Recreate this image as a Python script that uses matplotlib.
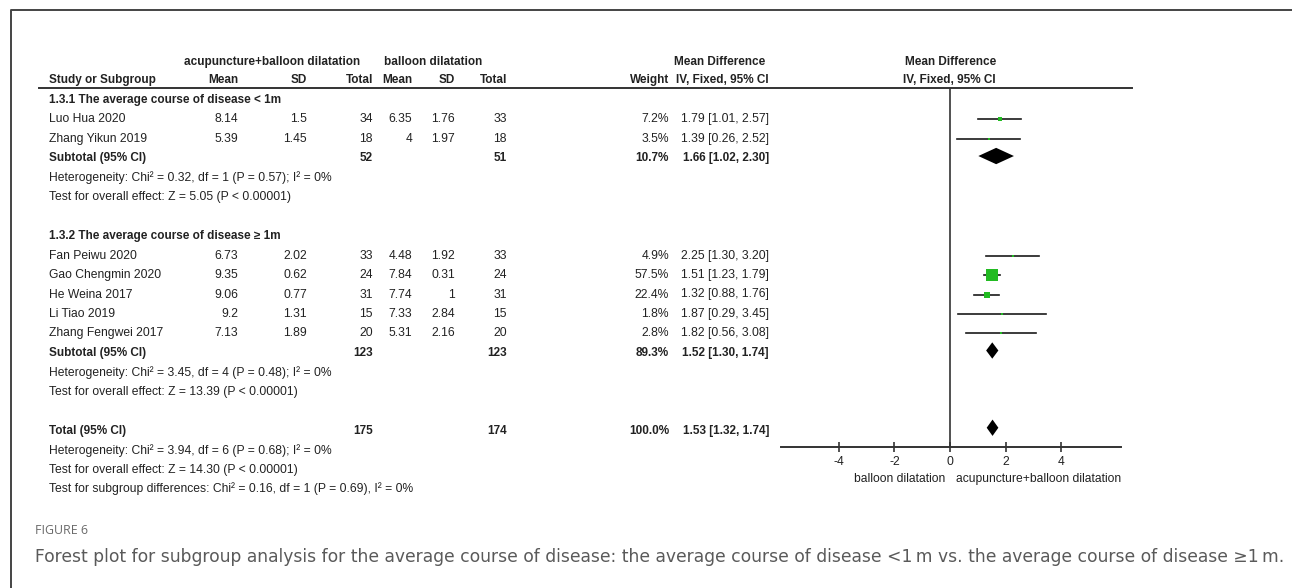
import matplotlib
matplotlib.use("Agg")
import matplotlib.pyplot as plt
from matplotlib import font_manager as fm
import numpy as np

plt.rcParams['axes.unicode_minus'] = False

# ---------------- data ----------------
group_titles = ["1.3.1 The average course of disease < 1m",
                "1.3.2 The average course of disease \u2265 1m"]
studies_1 = ["Luo Hua 2020", "Zhang Yikun 2019"]
exp_mean_1 = [8.14, 5.39]
exp_sd_1 = [1.5, 1.45]
exp_n_1 = [34, 18]
ctl_mean_1 = [6.35, 4]
ctl_sd_1 = [1.76, 1.97]
ctl_n_1 = [33, 18]
weight_1 = [7.2, 3.5]
md_1 = [1.79, 1.39]
lo_1 = [1.01, 0.26]
hi_1 = [2.57, 2.52]

studies_2 = ["Fan Peiwu 2020", "Gao Chengmin 2020", "He Weina 2017",
             "Li Tiao 2019", "Zhang Fengwei 2017"]
exp_mean_2 = [6.73, 9.35, 9.06, 9.2, 7.13]
exp_sd_2 = [2.02, 0.62, 0.77, 1.31, 1.89]
exp_n_2 = [33, 24, 31, 15, 20]
ctl_mean_2 = [4.48, 7.84, 7.74, 7.33, 5.31]
ctl_sd_2 = [1.92, 0.31, 1, 2.84, 2.16]
ctl_n_2 = [33, 24, 31, 15, 20]
weight_2 = [4.9, 57.5, 22.4, 1.8, 2.8]
md_2 = [2.25, 1.51, 1.32, 1.87, 1.82]
lo_2 = [1.30, 1.23, 0.88, 0.29, 0.56]
hi_2 = [3.20, 1.79, 1.76, 3.45, 3.08]

sub_exp_n = [52, 123]
sub_ctl_n = [51, 123]
sub_weight = [10.7, 89.3]
sub_md = [1.66, 1.52]
sub_lo = [1.02, 1.30]
sub_hi = [2.30, 1.74]
het_text = ["Heterogeneity: Chi\u00b2 = 0.32, df = 1 (P = 0.57); I\u00b2 = 0%",
            "Heterogeneity: Chi\u00b2 = 3.45, df = 4 (P = 0.48); I\u00b2 = 0%"]
eff_text = ["Test for overall effect: Z = 5.05 (P < 0.00001)",
            "Test for overall effect: Z = 13.39 (P < 0.00001)"]

tot_exp_n = 175
tot_ctl_n = 174
tot_weight = 100.0
tot_md = 1.53
tot_lo = 1.32
tot_hi = 1.74
tot_lines = ["Heterogeneity: Chi\u00b2 = 3.94, df = 6 (P = 0.68); I\u00b2 = 0%",
             "Test for overall effect: Z = 14.30 (P < 0.00001)",
             "Test for subgroup differences: Chi\u00b2 = 0.16, df = 1 (P = 0.69), I\u00b2 = 0%"]

xticks = [-4, -2, 0, 2, 4]
favours_left = "balloon dilatation"
favours_right = "acupuncture+balloon dilatation"
exp_label = "acupuncture+balloon dilatation"
ctl_label = "balloon dilatation"
caption_head = "FIGURE 6"
caption = ("Forest plot for subgroup analysis for the average course of disease: "
           "the average course of disease <1\u2009m vs. the average course of disease \u22651\u2009m.")

# ---------------- fonts ----------------
names = {f.name for f in fm.fontManager.ttflist}
if 'Liberation Sans Narrow' in names:
    FAM, FS = 'Liberation Sans Narrow', 10.0
else:
    FAM, FS = 'Liberation Sans', 8.7
FSB = FS * 0.97
TXT = '#222222'

W, H = 1292, 588
fig = plt.figure(figsize=(W / 100, H / 100), dpi=100)
fig.patch.set_facecolor('white')
ax0 = fig.add_axes([0, 0, 1, 1])
ax0.set_xlim(0, W)
ax0.set_ylim(H, 0)
ax0.axis('off')

# frame
ax0.plot([11, 11, W + 5], [H + 5, 10, 10], color='#444444', lw=1.4, clip_on=False)

def T(x, y, s, ha='left', bold=False, **kw):
    ax0.text(x, y, s, ha=ha, va='center', fontsize=FSB if bold else FS, family=FAM,
             fontweight='bold' if bold else 'normal', color=TXT, **kw)

ROW0, DY = 100.0, 19.45
def ry(r):
    return ROW0 + DY * r

# headers
T(272, 62, exp_label, ha='center', bold=True)
T(433, 62, ctl_label, ha='center', bold=True)
T(720, 62, "Mean Difference", ha='center', bold=True)
T(905, 62, "Mean Difference", bold=True)
hdr_y = 80
T(49, hdr_y, "Study or Subgroup", bold=True)
T(238, hdr_y, "Mean", ha='right', bold=True)
T(307, hdr_y, "SD", ha='right', bold=True)
T(373, hdr_y, "Total", ha='right', bold=True)
T(412, hdr_y, "Mean", ha='right', bold=True)
T(455, hdr_y, "SD", ha='right', bold=True)
T(507, hdr_y, "Total", ha='right', bold=True)
T(669, hdr_y, "Weight", ha='right', bold=True)
T(769, hdr_y, "IV, Fixed, 95% CI", ha='right', bold=True)
T(903, hdr_y, "IV, Fixed, 95% CI", bold=True)
ax0.plot([39, 1132], [88, 88], color='#333333', lw=1.4)

def fmtnum(v):
    return ("%g" % v)

# forest axes
px_per_unit = 27.8
x0px = 950
axL, axR = 781, 1121
axT, axB = 88, 447
ax = fig.add_axes([axL / W, 1 - axB / H, (axR - axL) / W, (axB - axT) / H])
ax.patch.set_alpha(0)
ax.set_xlim((axL - x0px) / px_per_unit, (axR - x0px) / px_per_unit)
ax.set_ylim((axB - ROW0) / DY, (axT - ROW0) / DY)
for s in ['top', 'left', 'right']:
    ax.spines[s].set_visible(False)
ax.spines['bottom'].set_color('#333333')
ax.spines['bottom'].set_linewidth(1.4)
ax.set_yticks([])
ax.set_xticks(xticks)
ax.set_xticklabels([str(t) for t in xticks], fontsize=FS, family=FAM, color=TXT)
ax.tick_params(axis='x', direction='inout', length=7, width=1.2, color='#333333', pad=3)
ax.axvline(0, color='#333333', lw=1.2)

def study_rows(start, names_, em, es, en, cm, cs, cn, w, md, lo, hi):
    for i in range(len(names_)):
        r = start + i
        y = ry(r)
        T(49, y, names_[i])
        T(238, y, fmtnum(em[i]), ha='right')
        T(307, y, fmtnum(es[i]), ha='right')
        T(373, y, str(en[i]), ha='right')
        T(412, y, fmtnum(cm[i]), ha='right')
        T(455, y, fmtnum(cs[i]), ha='right')
        T(507, y, str(cn[i]), ha='right')
        T(669, y, "%.1f%%" % w[i], ha='right')
        T(769, y, "%.2f [%.2f, %.2f]" % (md[i], lo[i], hi[i]), ha='right')
        ax.plot([lo[i], hi[i]], [r, r], color='#1a1a1a', lw=1.2, zorder=2)
        side_px = 0.76 * w[i] ** 0.7
        ax.plot([md[i]], [r], marker='s', ms=max(side_px, 2.6) * 0.72,
                color='#22bb22', mec='#22bb22', mew=0, zorder=3)

def diamond(r, m, l, h, hh=0.42):
    ax.fill([l, m, h, m], [r, r - hh, r, r + hh], color='black', zorder=4, lw=0)

groups = [
    (0, studies_1, exp_mean_1, exp_sd_1, exp_n_1, ctl_mean_1, ctl_sd_1, ctl_n_1, weight_1, md_1, lo_1, hi_1),
    (7, studies_2, exp_mean_2, exp_sd_2, exp_n_2, ctl_mean_2, ctl_sd_2, ctl_n_2, weight_2, md_2, lo_2, hi_2),
]
for gi, g in enumerate(groups):
    start = g[0]
    n = len(g[1])
    T(49, ry(start), group_titles[gi], bold=True)
    study_rows(start + 1, *g[1:])
    rs = start + 1 + n
    T(49, ry(rs), "Subtotal (95% CI)", bold=True)
    T(373, ry(rs), str(sub_exp_n[gi]), ha='right', bold=True)
    T(507, ry(rs), str(sub_ctl_n[gi]), ha='right', bold=True)
    T(669, ry(rs), "%.1f%%" % sub_weight[gi], ha='right', bold=True)
    T(769, ry(rs), "%.2f [%.2f, %.2f]" % (sub_md[gi], sub_lo[gi], sub_hi[gi]), ha='right', bold=True)
    diamond(rs - 0.12, sub_md[gi], sub_lo[gi], sub_hi[gi])
    T(49, ry(rs + 1), het_text[gi])
    T(49, ry(rs + 2), eff_text[gi])

rt = 17
T(49, ry(rt), "Total (95% CI)", bold=True)
T(373, ry(rt), str(tot_exp_n), ha='right', bold=True)
T(507, ry(rt), str(tot_ctl_n), ha='right', bold=True)
T(669, ry(rt), "%.1f%%" % tot_weight, ha='right', bold=True)
T(769, ry(rt), "%.2f [%.2f, %.2f]" % (tot_md, tot_lo, tot_hi), ha='right', bold=True)
diamond(rt - 0.15, tot_md, tot_lo, tot_hi)
for i, s in enumerate(tot_lines):
    T(49, ry(rt + 1 + i), s)

T(945, 479, favours_left, ha='right')
T(956, 479, favours_right)

# caption
ax0.text(35, 530, caption_head, ha='left', va='center', fontsize=8.9,
         family='Open Sans', color='#6a6a6a')
ax0.text(35, 557, caption, ha='left', va='center', fontsize=12.3,
         family='DejaVu Sans', color='#5a5a5a')

fig.savefig("out.png", dpi=100, facecolor='white')
